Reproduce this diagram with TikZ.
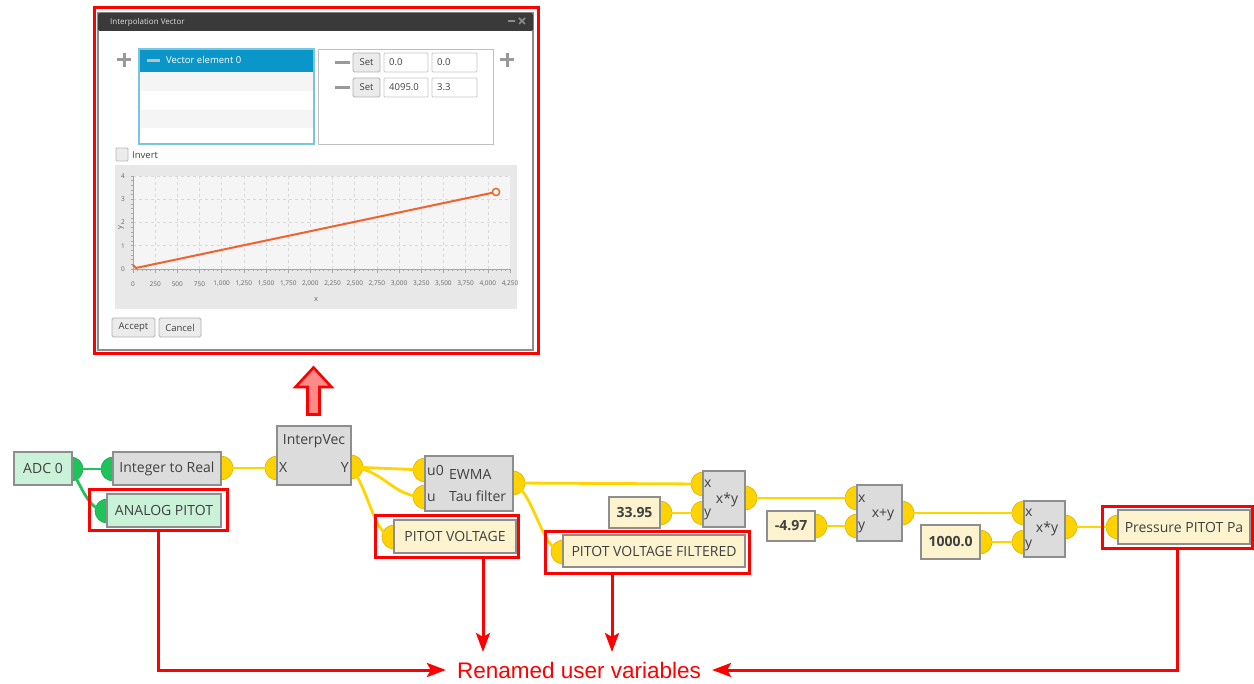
\documentclass[tikz,border=0pt]{standalone}
\usepackage{fontspec}
\setmainfont{Open Sans}
\newfontfamily\notefont{Liberation Sans}
\usetikzlibrary{arrows.meta}

\definecolor{frameRed}{HTML}{FF0000}
\definecolor{arrowPink}{HTML}{FF8A8A}
\definecolor{blockGray}{HTML}{8E8E8E}
\definecolor{opFill}{HTML}{DCDCDC}
\definecolor{mintFill}{HTML}{C9F2D8}
\definecolor{creamFill}{HTML}{FDF4CF}
\definecolor{portYellow}{HTML}{FFD200}
\definecolor{portGreen}{HTML}{1EC35A}
\definecolor{lineYellow}{HTML}{FFD500}
\definecolor{labelGray}{HTML}{404040}
\definecolor{titleDark}{HTML}{3A3A3A}
\definecolor{listBlue}{HTML}{0A96C8}
\definecolor{plotOrange}{HTML}{F2622E}

\begin{document}
\begin{tikzpicture}[x=1pt,y=-1pt]
\tikzset{
  block/.style={draw=blockGray,line width=2.5pt,inner sep=0pt,text=labelGray,font=\fontsize{14}{16}\selectfont},
  greenblock/.style={block,fill=mintFill},
  opblock/.style={block,fill=opFill},
  varblock/.style={block,fill=creamFill},
  constblock/.style={varblock,font=\fontsize{14}{16}\selectfont\bfseries},
  portlabel/.style={inner sep=0pt,text=labelGray,font=\fontsize{14}{16}\selectfont},
  yport/.style={circle,fill=portYellow,draw=portYellow!85!black,line width=0.6pt,minimum size=24pt,inner sep=0pt},
  gport/.style={yport,fill=portGreen,draw=portGreen!85!black},
  yline/.style={draw=lineYellow,line width=2.8pt,line cap=round},
  gline/.style={draw=portGreen,line width=2.8pt,line cap=round},
  redframe/.style={draw=frameRed,line width=3pt,inner sep=0pt},
  redarrow/.style={draw=frameRed,line width=3pt,-{Stealth[length=19pt,width=14pt,inset=4pt]}},
  uitext/.style={inner sep=0pt,text=labelGray,font=\fontsize{9.5}{11}\selectfont},
  ticktext/.style={inner sep=0pt,text=black!60,font=\fontsize{6.5}{7}\selectfont},
  uibutton/.style={draw=black!30,fill=black!8,rounded corners=1.5pt,line width=0.8pt},
  uifield/.style={draw=black!22,fill=white,rounded corners=1pt,line width=0.8pt}
}
\useasboundingbox (0,0) rectangle (1254,684);

% dialog window
\node[redframe,minimum width=444pt,minimum height=346pt] (n_dlgframe) at (316,181) {};
\draw[fill=white,draw=black!45,line width=1.2pt] (98,13) rectangle (533,350);
\fill[titleDark,rounded corners=2pt] (98,13) rectangle (533,31);
\node[uitext,anchor=west,text=black!12,font=\fontsize{8}{9}\selectfont] (n_title) at (110,22) {Interpolation Vector};
\draw[black!45,line width=1.6pt] (508,21) -- (515,21) (519,18) -- (525,24) (519,24) -- (525,18);
\draw[black!40,line width=3pt] (117,60) -- (131,60) (124,53) -- (124,67);
\draw[black!40,line width=3pt] (500,60) -- (514,60) (507,53) -- (507,67);
% vector list
\fill[black!4] (139,72) rectangle (314,91) (139,110) rectangle (314,128);
\fill[listBlue] (139,49) rectangle (314,72);
\draw[listBlue!55,line width=1.2pt] (139,49) rectangle (314,144);
\draw[black!25,line width=3pt] (147,60.5) -- (160,60.5);
\node[uitext,anchor=west,text=white] (n_elem) at (166,60) {Vector element 0};
% point table
\draw[black!25,line width=0.8pt] (318,49) rectangle (493,144);
\foreach \yy/\va/\vb in {53/0.0/0.0,78/4095.0/3.3}{
  \draw[black!40,line width=3pt] (335,\yy+9.5) -- (350,\yy+9.5);
  \draw[uibutton] (353,\yy) rectangle (380,\yy+19);
  \node[uitext] at (366.5,\yy+9.5) {Set};
  \draw[uifield] (384,\yy) rectangle (428,\yy+19);
  \node[uitext,anchor=west] at (389,\yy+9.5) {\va};
  \draw[uifield] (432,\yy) rectangle (477,\yy+19);
  \node[uitext,anchor=west] at (437,\yy+9.5) {\vb};
}
\draw[uifield,fill=black!8,draw=black!28] (116,148) rectangle (128,161);
\node[uitext,anchor=west] (n_invert) at (132,155) {Invert};
% chart
\fill[black!9] (115,165) rectangle (517,309);
\fill[black!4] (133,176) rectangle (510,269);
\foreach \k in {1,...,16}
  \draw[black!15,dashed,line width=0.6pt] ({133+\k*22.176},176) -- ({133+\k*22.176},269);
\foreach \yy in {176,199.25,222.5,245.75}
  \draw[black!15,dashed,line width=0.6pt] (133,\yy) -- (510,\yy);
\draw[black!35,line width=0.6pt] (133,176) -- (133,269) -- (510,269);
\foreach \k in {0,...,85}
  \draw[black!35,line width=0.5pt] ({133+\k*4.4353},269) -- ({133+\k*4.4353},271.5);
\foreach \k in {0,...,17}
  \draw[black!35,line width=0.6pt] ({133+\k*22.176},269) -- ({133+\k*22.176},273);
\foreach \k in {0,...,20}
  \draw[black!35,line width=0.5pt] (130.5,{176+\k*4.65}) -- (133,{176+\k*4.65});
\foreach \k/\lab in {0/0,1/250,2/500,3/750,4/{1,000},5/{1,250},6/{1,500},7/{1,750},8/{2,000},9/{2,250},10/{2,500},11/{2,750},12/{3,000},13/{3,250},14/{3,500},15/{3,750},16/{4,000},17/{4,250}}
  \node[ticktext] at ({133+\k*22.176},284) {\lab};
\foreach \k in {0,...,4}
  \node[ticktext] at (123,{269-\k*23.25}) {\k};
\node[ticktext,font=\fontsize{7.5}{8}\selectfont] (n_xlab) at (316,299) {x};
\node[ticktext,font=\fontsize{7.5}{8}\selectfont,rotate=90] (n_ylab) at (121,228) {y};
\draw[plotOrange,line width=2pt,line cap=round] (133,265) -- (136,268) -- (496,192);
\draw[plotOrange,fill=white,line width=1.5pt] (496,192) circle (3.6);
\draw[uibutton] (112,318) rectangle (155,337);
\node[uitext] (n_accept) at (133.5,327.5) {Accept};
\draw[uibutton] (159,318) rectangle (201,337);
\node[uitext] (n_cancel) at (180,327.5) {Cancel};

% block arrow up to the dialog
\draw[frameRed,fill=arrowPink,line width=2.6pt,line join=miter]
  (307.5,414.5) -- (307.5,387) -- (295.5,387) -- (313.5,367.5) -- (331.5,387) -- (319.5,387) -- (319.5,414.5) -- cycle;

% ports
\node[gport] (p_adc_out) at (71,469) {};
\node[gport] (p_i2r_in) at (113,469) {};
\node[yport] (p_i2r_out) at (221,468) {};
\node[gport] (p_analog_in) at (107,511) {};
\node[yport] (p_interp_x) at (277,468) {};
\node[yport] (p_interp_y) at (351,467) {};
\node[yport] (p_ewma_u0) at (425,470) {};
\node[yport] (p_ewma_u) at (425,497) {};
\node[yport] (p_ewma_out) at (513,483) {};
\node[yport] (p_pv_in) at (394,537) {};
\node[yport] (p_pvf_in) at (563,552) {};
\node[yport] (p_c1_out) at (660,513) {};
\node[yport] (p_mul1_x) at (703,484) {};
\node[yport] (p_mul1_y) at (703,513) {};
\node[yport] (p_mul1_out) at (745,498) {};
\node[yport] (p_c2_out) at (815,526) {};
\node[yport] (p_add_x) at (857,498) {};
\node[yport] (p_add_y) at (857,526) {};
\node[yport] (p_add_out) at (902,513) {};
\node[yport] (p_c3_out) at (980,542) {};
\node[yport] (p_mul2_x) at (1024,513) {};
\node[yport] (p_mul2_y) at (1024,542) {};
\node[yport] (p_mul2_out) at (1065,527) {};
\node[yport] (p_press_in) at (1118,527) {};

% wires
\draw[gline] (p_adc_out.center) -- (p_i2r_in.center);
\draw[gline] (p_adc_out.center) .. controls (84,492) and (90,511) .. (p_analog_in.center);
\draw[yline] (p_i2r_out.center) -- (p_interp_x.center);
\draw[yline] (p_interp_y.center) -- (p_ewma_u0.center);
\draw[yline] (p_interp_y.center) .. controls (385,470) and (392,497) .. (p_ewma_u.center);
\draw[yline] (p_interp_y.center) .. controls (370,492) and (374,537) .. (p_pv_in.center);
\draw[yline] (p_ewma_out.center) -- (p_mul1_x.center);
\draw[yline] (p_ewma_out.center) .. controls (534,492) and (542,552) .. (p_pvf_in.center);
\draw[yline] (p_c1_out.center) -- (p_mul1_y.center);
\draw[yline] (p_mul1_out.center) -- (p_add_x.center);
\draw[yline] (p_c2_out.center) -- (p_add_y.center);
\draw[yline] (p_add_out.center) -- (p_mul2_x.center);
\draw[yline] (p_c3_out.center) -- (p_mul2_y.center);
\draw[yline] (p_mul2_out.center) -- (p_press_in.center);

% blocks
\node[greenblock,minimum width=58pt,minimum height=33pt] (n_adc) at (43,468.5) {ADC 0};
\node[opblock,minimum width=108pt,minimum height=33pt] (n_i2r) at (167,468.5) {Integer to Real};
\node[greenblock,minimum width=114pt,minimum height=33pt] (n_analog) at (164,510.5) {ANALOG PITOT};
\node[opblock,minimum width=74pt,minimum height=59pt] (n_interp) at (314,455.5) {};
\node[portlabel] at (314,441) {InterpVec};
\node[portlabel,anchor=west] at (279,468) {X};
\node[portlabel,anchor=east] at (349,468) {Y};
\node[opblock,minimum width=88pt,minimum height=55pt] (n_ewma) at (469,483.5) {};
\node[portlabel,anchor=west] at (427,470) {u0};
\node[portlabel,anchor=west] at (427,498) {u};
\node[portlabel,anchor=west] at (449,474) {EWMA};
\node[portlabel,anchor=west] at (449,496) {Tau filter};
\node[varblock,minimum width=122pt,minimum height=33pt] (n_pv) at (455,536.5) {PITOT VOLTAGE};
\node[varblock,minimum width=182pt,minimum height=32pt] (n_pvf) at (654,551) {PITOT VOLTAGE FILTERED};
\node[constblock,minimum width=51pt,minimum height=31pt] (n_c1) at (634.5,512.5) {33.95};
\node[opblock,minimum width=42pt,minimum height=56pt] (n_mul1) at (724,499) {};
\node[portlabel,anchor=west] at (704,484) {x};
\node[portlabel,anchor=west] at (704,514) {y};
\node[portlabel] at (727,500) {x*y};
\node[constblock,minimum width=48pt,minimum height=30pt] (n_c2) at (791,526) {-4.97};
\node[opblock,minimum width=45pt,minimum height=56pt] (n_add) at (879.5,513) {};
\node[portlabel,anchor=west] at (858,499) {x};
\node[portlabel,anchor=west] at (858,527) {y};
\node[portlabel] at (883,515) {x+y};
\node[constblock,minimum width=59pt,minimum height=34pt] (n_c3) at (950.5,542) {1000.0};
\node[opblock,minimum width=41pt,minimum height=56pt] (n_mul2) at (1044.5,529) {};
\node[portlabel,anchor=west] at (1025,513) {x};
\node[portlabel,anchor=west] at (1025,545) {y};
\node[portlabel] at (1047,529) {x*y};
\node[varblock,minimum width=132pt,minimum height=34pt] (n_press) at (1184,527) {Pressure PITOT Pa};

% red highlights
\node[redframe,minimum width=138pt,minimum height=41pt] (f_analog) at (158,510.5) {};
\node[redframe,minimum width=143pt,minimum height=42pt] (f_pv) at (446.5,537) {};
\node[redframe,minimum width=204pt,minimum height=41pt] (f_pvf) at (647,552.5) {};
\node[redframe,minimum width=150pt,minimum height=42pt] (f_press) at (1177,528) {};
\node[inner xsep=11pt,inner ysep=0pt,text=frameRed,font=\notefont\fontsize{22.5}{26}\selectfont] (n_note) at (579,670) {Renamed user variables};
\coordinate (c_pvtip) at (483,652);
\coordinate (c_pvftip) at (612,652);
\draw[redarrow] (f_analog.south) |- (n_note.west);
\draw[redarrow] (c_pvtip |- f_pv.south) -- (c_pvtip);
\draw[redarrow] (c_pvftip |- f_pvf.south) -- (c_pvftip);
\draw[redarrow] (f_press.south) |- (n_note.east);
\end{tikzpicture}
\end{document}
